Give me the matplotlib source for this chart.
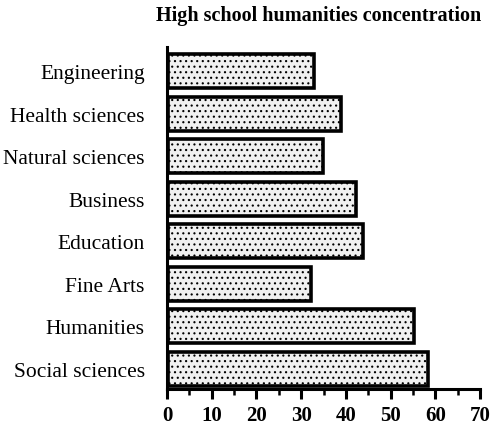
import matplotlib
matplotlib.use("Agg")
import matplotlib.pyplot as plt
from matplotlib.ticker import MultipleLocator

categories = ["Engineering", "Health sciences", "Natural sciences", "Business",
              "Education", "Fine Arts", "Humanities", "Social sciences"]
values = [32.5, 38.5, 34.5, 42, 43.5, 32, 55, 58]

plt.rcParams['font.family'] = ['Liberation Serif', 'DejaVu Serif']
plt.rcParams['hatch.color'] = '#666666'
plt.rcParams['hatch.linewidth'] = 0.8

fig = plt.figure(figsize=(4.91, 4.31), dpi=100)
ax = fig.add_axes([0.340, 0.095, 0.638, 0.793])

pos = list(range(len(categories)))[::-1]
ax.barh(pos, values, height=0.8, left=0.3, color='#f0f0f0', edgecolor='black',
        linewidth=2.6, hatch='...')

ax.set_xlim(0, 70)
ax.set_ylim(-0.48, 7.56)
ax.set_yticks(pos)
ax.set_yticklabels(categories, fontsize=15.5)
ax.tick_params(axis='y', length=0, pad=16)
ax.xaxis.set_major_locator(MultipleLocator(10))
ax.xaxis.set_minor_locator(MultipleLocator(5))
ax.tick_params(axis='x', which='major', length=7, width=2.2, labelsize=15, pad=4.5)
ax.tick_params(axis='x', which='minor', length=4, width=1.8)
for t in ax.get_xticklabels():
    t.set_fontweight('bold')

for s in ['top', 'right']:
    ax.spines[s].set_visible(False)
ax.spines['left'].set_linewidth(2.2)
ax.spines['bottom'].set_linewidth(2.2)

fig.text(0.648, 0.962, "High school humanities concentration", ha='center',
         va='center', fontsize=14.5, fontweight='bold')

fig.savefig("out.png", dpi=100)
